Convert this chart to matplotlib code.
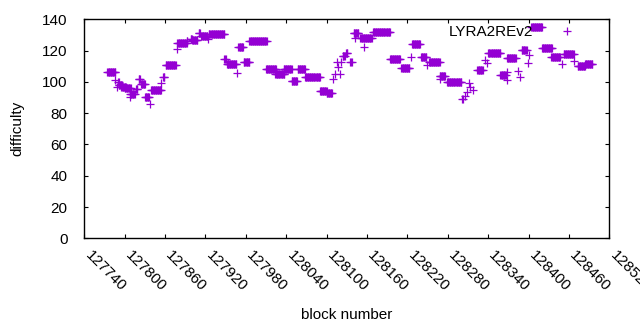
import numpy as np
import matplotlib.pyplot as plt
import matplotlib.transforms as mtransforms

plt.rcParams['font.family'] = ['Liberation Sans', 'DejaVu Sans']

# runs of blocks that share one difficulty value (first block, last block, difficulty)
run_start = [127774, 127785, 127790, 127788, 127791, 127795, 127800, 127808, 127808, 127817,
             127821, 127824, 127830, 127837, 127839, 127854, 127857, 127861, 127877, 127878,
             127892, 127898, 127900, 127910, 127914, 127924, 127925, 127948, 127954,
             127952, 127967, 127969, 127977, 127985, 128010, 128024, 128036, 128048, 128057,
             128068, 128090, 128100, 128110, 128113, 128120, 128115, 128117, 128122, 128124,
             128129, 128135, 128140, 128142,
             128150, 128155, 128169, 128194, 128211, 128226, 128227, 128240, 128249, 128252,
             128268, 128268, 128279, 128301, 128305, 128308, 128311, 128313, 128318, 128324,
             128335, 128338,
             128340, 128358, 128368, 128368, 128368, 128384, 128387, 128390, 128400, 128399,
             128404, 128420, 128434, 128450, 128452, 128468, 128473, 128484]
run_end = [127786, 127785, 127791, 127788, 127796, 127802, 127809, 127815, 127808, 127819,
           127823, 127830, 127836, 127837, 127854, 127854, 127859, 127876, 127877, 127892,
           127893, 127900, 127908, 127912, 127923, 127924, 127948, 127950, 127954,
           127966, 127967, 127976, 127985, 128011, 128025, 128037, 128048, 128056, 128068,
           128090, 128100, 128108, 128110, 128113, 128120, 128115, 128117, 128122, 128127,
           128131, 128137, 128147, 128142,
           128167, 128155, 128194, 128209, 128223, 128226, 128239, 128248, 128249, 128268,
           128276, 128268, 128300, 128302, 128305, 128308, 128311, 128313, 128318, 128332,
           128335, 128338,
           128358, 128366, 128368, 128368, 128381, 128384, 128387, 128397, 128400, 128399,
           128420, 128435, 128447, 128450, 128467, 128468, 128484, 128495]
run_diff = [106, 101, 100, 97, 98, 97, 96, 92, 90.5, 95.5,
            102, 98.7, 90.5, 86, 94.6, 99, 103, 110.6, 121, 124.7,
            126, 127.4, 126.8, 131, 129.5, 127.4, 130.4, 114.4, 111.3,
            111.3, 105.5, 122.1, 113, 126.2, 108, 104.9, 108.3, 100.6, 108.3,
            103, 94.2, 92.7, 101.7, 104.9, 104.9, 113, 109.7, 113, 116.8,
            118.3, 112.5, 131, 128.3,
            127.9, 122.1, 131.7, 114.4, 108.7, 116.1, 124, 115.7, 110.8, 112.5,
            104, 101.7, 99.7, 89.1, 91, 93.7, 99.1, 96.9, 94.8, 107.6,
            114, 111.9,
            118.3, 104.4, 101.2, 106.5, 115.1, 107, 103.3, 120.4, 117.2, 112.3,
            135.3, 121.9, 115.7, 111.5, 117.7, 113.4, 110.2, 111.3]

blocks = np.concatenate([np.arange(s, e + 1) for s, e in zip(run_start, run_end)])
lengths = [e - s + 1 for s, e in zip(run_start, run_end)]
difficulty = np.repeat(run_diff, lengths)

xticks = np.arange(127740, 128521, 60)
yticks = np.arange(0, 141, 20)

fig = plt.figure(figsize=(6.4, 3.3), dpi=100)
ax = fig.add_axes([84.3 / 640, 91.7 / 330, 525 / 640, 219 / 330])

ax.plot(blocks, difficulty, linestyle='none', marker='+', markersize=5.2,
        markeredgewidth=0.9, color='#9400D3', label='LYRA2REv2')

ax.set_xlim(127740, 128520)
ax.set_ylim(0, 140)
ax.set_xticks(xticks)
ax.set_yticks(yticks)
ax.tick_params(direction='in', length=3, width=0.8, top=True, right=True,
               labelsize=11, colors='black')
ax.tick_params(axis='y', pad=12)
ax.tick_params(axis='x', pad=11)
# nudge rotated x labels a little to the right
shift = mtransforms.ScaledTranslation(3 / 100, 0, fig.dpi_scale_trans)
for lab in ax.get_xticklabels():
    lab.set_rotation(-45)
    lab.set_ha('left')
    lab.set_va('center')
    lab.set_rotation_mode('anchor')
    lab.set_transform(lab.get_transform() + shift)
for s in ax.spines.values():
    s.set_linewidth(1)

ax.set_ylabel('difficulty', fontsize=11)
ax.yaxis.set_label_coords(-0.115, 0.5)
ax.set_xlabel('block number', fontsize=11)
ax.xaxis.set_label_coords(0.5, -0.32)

ax.legend(loc='center right', bbox_to_anchor=(582 / 640, 1 - 32 / 330),
          bbox_transform=fig.transFigure, frameon=False, markerfirst=False,
          fontsize=11, borderpad=0, borderaxespad=0, handletextpad=1.2,
          handlelength=2)

fig.savefig('out.png', dpi=100)
